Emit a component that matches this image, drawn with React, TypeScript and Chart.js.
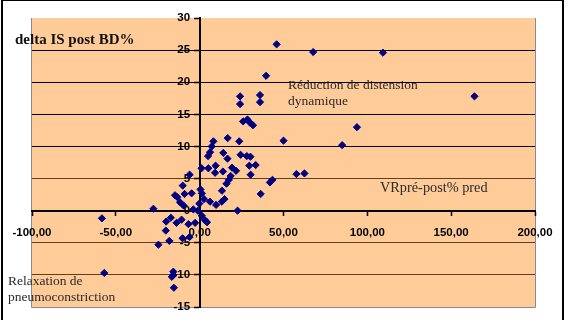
import React, { useEffect, useRef } from "react";
import { Chart, registerables } from "chart.js";

Chart.register(...registerables);

// VR pré-post (% pred) on x, delta IS post BD (%) on y — one entry per patient
const vrPrePostPred = [
  45.9, 67.7, 109.3, 163.9, 39.6, 93.8, 85.0, 50.0, 57.7, 62.5, 43.4, 41.9, 36.4, 22.6,
  24.1, 24.1, 36.0, 36.0, 25.9, 28.5, 30.0, 31.8, 16.7, 23.6, 8.2, 7.2, 6.2, 5.0,
  14.1, 16.6, 24.4, 28.1, 30.3, 9.5, 5.2, 1.1, 9.2, 13.9, 19.3, 21.7, 29.6, 33.4,
  30.4, 18.5, 17.4, 16.0, 13.3,
  1.3, 0.5, 2.6, 6.2, 9.8, 13.2, 14.8, 3.2, 4.4, 1.3, -0.2, -3.8, -1.1,
  -10.1, -6.0, -14.7, -13.3, -9.0, -4.8, -11.7, -9.6, -27.6, -58.3, -56.9, -20.0,
  -17.2, -13.8, -10.8, -6.7, -2.7, -20.2, -18.1, -24.6, -10.2, -6.0, -15.7, -15.7,
  -16.6, -15.4,
];

const deltaISPostBD = [
  25.9, 24.7, 24.6, 17.8, 21.0, 13.0, 10.2, 10.9, 5.7, 5.8, 4.8, 4.4, 2.6, 0.0,
  17.8, 16.6, 18.0, 16.9, 13.9, 14.2, 13.7, 13.3, 11.3, 10.8, 10.8, 10.0, 9.1, 8.5,
  9.0, 8.1, 8.7, 8.5, 8.4, 7.0, 6.6, 6.6, 5.9, 6.1, 6.7, 6.2, 7.0, 7.1,
  5.6, 5.4, 4.8, 4.2, 3.1,
  2.7, 3.3, 1.8, 1.4, 0.9, 1.4, 1.8, -1.5, -1.8, -0.8, 1.1, 0.2, 0.0,
  3.9, 5.6, 2.4, 2.1, 2.6, 2.7, 1.3, 0.8, 0.3, -1.2, -9.7, -1.7,
  -1.1, -1.9, -1.4, -2.1, -1.9, -3.1, -4.7, -5.3, -4.3, -4.1, -9.5, -10.0,
  -10.3, -12.0,
];

const xRange = { min: -100, max: 200, step: 50 };
const yRange = { min: -15, max: 30, step: 5 };

const yTitle = "delta IS post BD%";
const xTitle = "VRpré-post% pred";
const upperNote = ["Réduction de distension", "dynamique"];
const lowerNote = ["Relaxation de", "pneumoconstriction"];

const W = 566;
const H = 320;

const PLOT_BG = "#FFCC99";
const POINT_COLOR = "#000080";
const SANS = "'Liberation Sans', Arial, sans-serif";
const SERIF = "'Liberation Serif', 'Times New Roman', serif";

const formatDecimal = (v: number) => v.toFixed(2).replace(".", ",");
// the crossing y axis puts its labels flush against the line; pad them clear of the tick marks
const Y_LABEL_GAP = "   ";

const framePlugin = {
  id: "frame",
  beforeDraw(chart: Chart) {
    const { ctx, chartArea } = chart;
    const { left, top, right, bottom } = chartArea;
    ctx.save();
    ctx.fillStyle = "#ffffff";
    ctx.fillRect(0, 0, W, H);
    ctx.fillStyle = PLOT_BG;
    ctx.fillRect(left, top, right - left, bottom - top);
    ctx.strokeStyle = "#8a8a8a";
    ctx.lineWidth = 1;
    ctx.beginPath();
    ctx.moveTo(left - 0.5, top);
    ctx.lineTo(left - 0.5, bottom + 0.5);
    ctx.lineTo(right + 0.5, bottom + 0.5);
    ctx.lineTo(right + 0.5, top);
    ctx.stroke();
    ctx.restore();
  },
  afterDraw(chart: Chart) {
    const { ctx } = chart;
    ctx.save();
    ctx.textAlign = "left";
    ctx.textBaseline = "alphabetic";

    ctx.fillStyle = "#111";
    ctx.font = `bold 15px ${SERIF}`;
    ctx.fillText(yTitle, 15, 44);

    ctx.fillStyle = "#2a2a2a";
    ctx.font = `13.5px ${SERIF}`;
    ctx.fillText(upperNote[0], 288, 88.5);
    ctx.fillText(upperNote[1], 288, 104.5);
    ctx.fillText(lowerNote[0], 8, 285);
    ctx.fillText(lowerNote[1], 8, 300.5);
    ctx.font = `14.3px ${SERIF}`;
    ctx.fillText(xTitle, 380, 192);

    // outer frame
    ctx.fillStyle = "#000";
    ctx.fillRect(1, 0, 2, H);
    ctx.fillRect(1, 0, 563, 1);
    ctx.fillRect(562, 0, 2, H);
    ctx.restore();
  },
};

export default function App() {
  const canvasRef = useRef<HTMLCanvasElement | null>(null);

  useEffect(() => {
    const canvas = canvasRef.current;
    if (!canvas) return;
    const points = vrPrePostPred.map((x, i) => ({ x, y: deltaISPostBD[i] }));

    const chart = new Chart(canvas, {
      type: "scatter",
      data: {
        datasets: [
          {
            data: points,
            pointStyle: "rectRot",
            pointRadius: 3.6,
            pointBackgroundColor: POINT_COLOR,
            pointBorderColor: POINT_COLOR,
            pointBorderWidth: 1,
          },
        ],
      },
      options: {
        responsive: false,
        animation: false,
        devicePixelRatio: 1,
        layout: { padding: { left: 32, top: 18, right: 31, bottom: 13 } },
        plugins: {
          legend: { display: false },
          tooltip: { enabled: false },
        },
        scales: {
          x: {
            type: "linear",
            position: { y: 0 },
            min: xRange.min,
            max: xRange.max,
            ticks: {
              stepSize: xRange.step,
              color: "#000",
              font: { family: SANS, size: 11.5, weight: "bold" },
              padding: 11,
              maxRotation: 0,
              callback: (v: any) => formatDecimal(Number(v)),
            },
            grid: {
              drawOnChartArea: false,
              drawTicks: true,
              tickLength: 4,
              tickColor: "#000",
              tickWidth: 1.5,
            },
            border: { display: true, color: "#000", width: 2 },
          },
          y: {
            type: "linear",
            position: { x: 0 },
            min: yRange.min,
            max: yRange.max,
            ticks: {
              stepSize: yRange.step,
              color: "#000",
              font: { family: SANS, size: 11.5, weight: "bold" },
              padding: 3,
              callback: (v: any) => String(v) + Y_LABEL_GAP,
            },
            grid: {
              drawOnChartArea: true,
              drawTicks: true,
              tickLength: 5,
              tickColor: "#000",
              tickWidth: 1.5,
              lineWidth: 1,
              color: (c: any) => {
                const v = c.tick ? c.tick.value : 0;
                if (v === yRange.max || v === yRange.min || v === 0) return "rgba(0,0,0,0)";
                return v >= 10 ? "#000000" : "#5e3f22";
              },
            },
            border: { display: true, color: "#000", width: 2 },
          },
        },
      },
      plugins: [framePlugin],
    });

    return () => chart.destroy();
  }, []);

  return (
    <div style={{ position: "fixed", left: 0, top: 0, width: W, height: H, background: "#fff" }}>
      <canvas ref={canvasRef} width={W} height={H} style={{ display: "block" }} />
    </div>
  );
}
